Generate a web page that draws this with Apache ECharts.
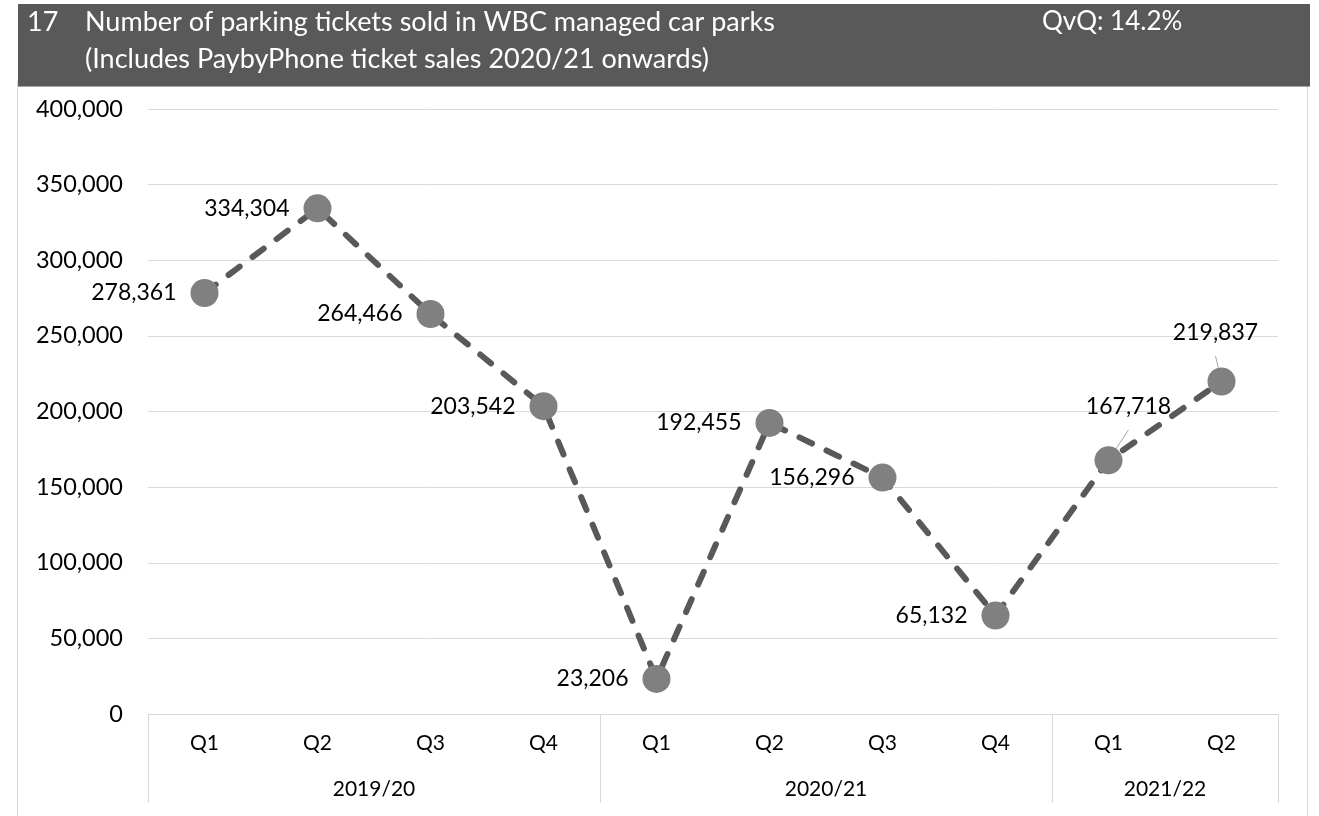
<!DOCTYPE html>
<html>
<head>
<meta charset="utf-8">
<script src="https://cdn.jsdelivr.net/npm/echarts@6/dist/echarts.min.js"></script>
<style>
html,body{margin:0;padding:0;background:#fff;}
#chart{width:1319px;height:816px;}
</style>
</head>
<body>
<div id="chart"></div>
<script>
const quarters = ['Q1','Q2','Q3','Q4','Q1','Q2','Q3','Q4','Q1','Q2'];
const tickets = [278361, 334304, 264466, 203542, 23206, 192455, 156296, 65132, 167718, 219837];
const years = ['2019/20','2020/21','2021/22'];
const yearSpans = [4, 4, 2];
const yTicks = [0, 50000, 100000, 150000, 200000, 250000, 300000, 350000, 400000];
const titleNum = '17';
const titleLine1 = 'Number of parking tickets sold in WBC managed car parks';
const titleLine2 = '(Includes PaybyPhone ticket sales 2020/21 onwards)';
const qvq = 'QvQ: 14.2%';

const FONT = 'Lato, "Open Sans", sans-serif';

// half-slot axis for the year groups (boundaryGap false, 2 slots per quarter)
const halfSlots = [];
const sepIdx = new Set([0]);
const labelIdx = {};
let pos = 0;
yearSpans.forEach((s, i) => {
  labelIdx[pos + s] = years[i];
  pos += 2 * s;
  sepIdx.add(pos);
});
for (let k = 0; k <= 2 * quarters.length; k++) halfSlots.push(labelIdx[k] || '');

const fmt = v => v.toLocaleString('en-US');

const labelTweaks = {
  8: {position: 'top', offset: [20, -14]},
  9: {position: 'top', offset: [-6, -9]}
};

const seriesData = tickets.map((v, i) => {
  const d = {value: v};
  if (labelTweaks[i]) {
    d.label = labelTweaks[i];
    d.labelLine = {show: true, lineStyle: {color: '#a6a6a6', width: 1}};
  }
  return d;
});

const TF = '27px ' + FONT;
const chart = echarts.init(document.getElementById('chart'));
chart.setOption({
  animation: false,
  textStyle: {fontFamily: FONT},
  graphic: [
    {type: 'rect', shape: {x: 17.5, y: 80.5, width: 1290, height: 760}, style: {fill: 'none', stroke: '#d9d9d9', lineWidth: 1}, z: 0},
    {type: 'rect', shape: {x: 18, y: 4, width: 1292, height: 82}, style: {fill: '#595959'}, z: 1},
    {type: 'line', shape: {x1: 18, y1: 86.5, x2: 1310, y2: 86.5}, style: {stroke: '#a6a6a6', lineWidth: 1}, z: 1},
    {type: 'text', x: 27, y: 22, z: 2, style: {text: titleNum, fill: '#fff', font: TF, textVerticalAlign: 'middle'}},
    {type: 'text', x: 85, y: 22, z: 2, style: {text: titleLine1, fill: '#fff', font: TF, textVerticalAlign: 'middle'}},
    {type: 'text', x: 85, y: 59, z: 2, style: {text: titleLine2, fill: '#fff', font: TF, textVerticalAlign: 'middle'}},
    {type: 'text', x: 1042, y: 22, z: 2, style: {text: qvq, fill: '#fff', font: '26px ' + FONT, textVerticalAlign: 'middle'}}
  ],
  grid: {left: 148, right: 41, top: 109, bottom: 102, containLabel: false},
  xAxis: [
    {
      type: 'category', data: quarters, boundaryGap: true, position: 'bottom',
      axisLine: {show: true, lineStyle: {color: '#d9d9d9', width: 1}},
      axisTick: {show: false},
      axisLabel: {color: '#000', fontSize: 21, margin: 19, fontFamily: FONT},
      splitLine: {show: false}
    },
    {
      type: 'category', data: halfSlots, boundaryGap: false, position: 'bottom',
      axisLine: {show: false},
      axisTick: {show: true, length: 89, inside: false, interval: (i) => sepIdx.has(i), lineStyle: {color: '#d9d9d9', width: 1}},
      axisLabel: {color: '#000', fontSize: 21, margin: 65, interval: 0, fontFamily: FONT},
      splitLine: {show: false}
    }
  ],
  yAxis: {
    type: 'value', min: yTicks[0], max: yTicks[yTicks.length - 1], interval: yTicks[1] - yTicks[0],
    axisLine: {show: false}, axisTick: {show: false},
    axisLabel: {color: '#000', fontSize: 23.5, margin: 25, formatter: fmt, fontFamily: FONT},
    splitLine: {lineStyle: {color: '#d9d9d9', width: 1}}
  },
  series: [{
    type: 'line',
    data: seriesData,
    xAxisIndex: 0,
    symbol: 'circle', symbolSize: 28,
    itemStyle: {color: '#808080'},
    lineStyle: {color: '#595959', width: 6, type: [14, 16], cap: 'round'},
    label: {show: true, position: 'left', distance: 14, color: '#000', fontSize: 23, fontFamily: FONT, formatter: p => fmt(p.value)},
    labelLine: {show: false},
    z: 3
  }]
});
</script>
</body>
</html>
